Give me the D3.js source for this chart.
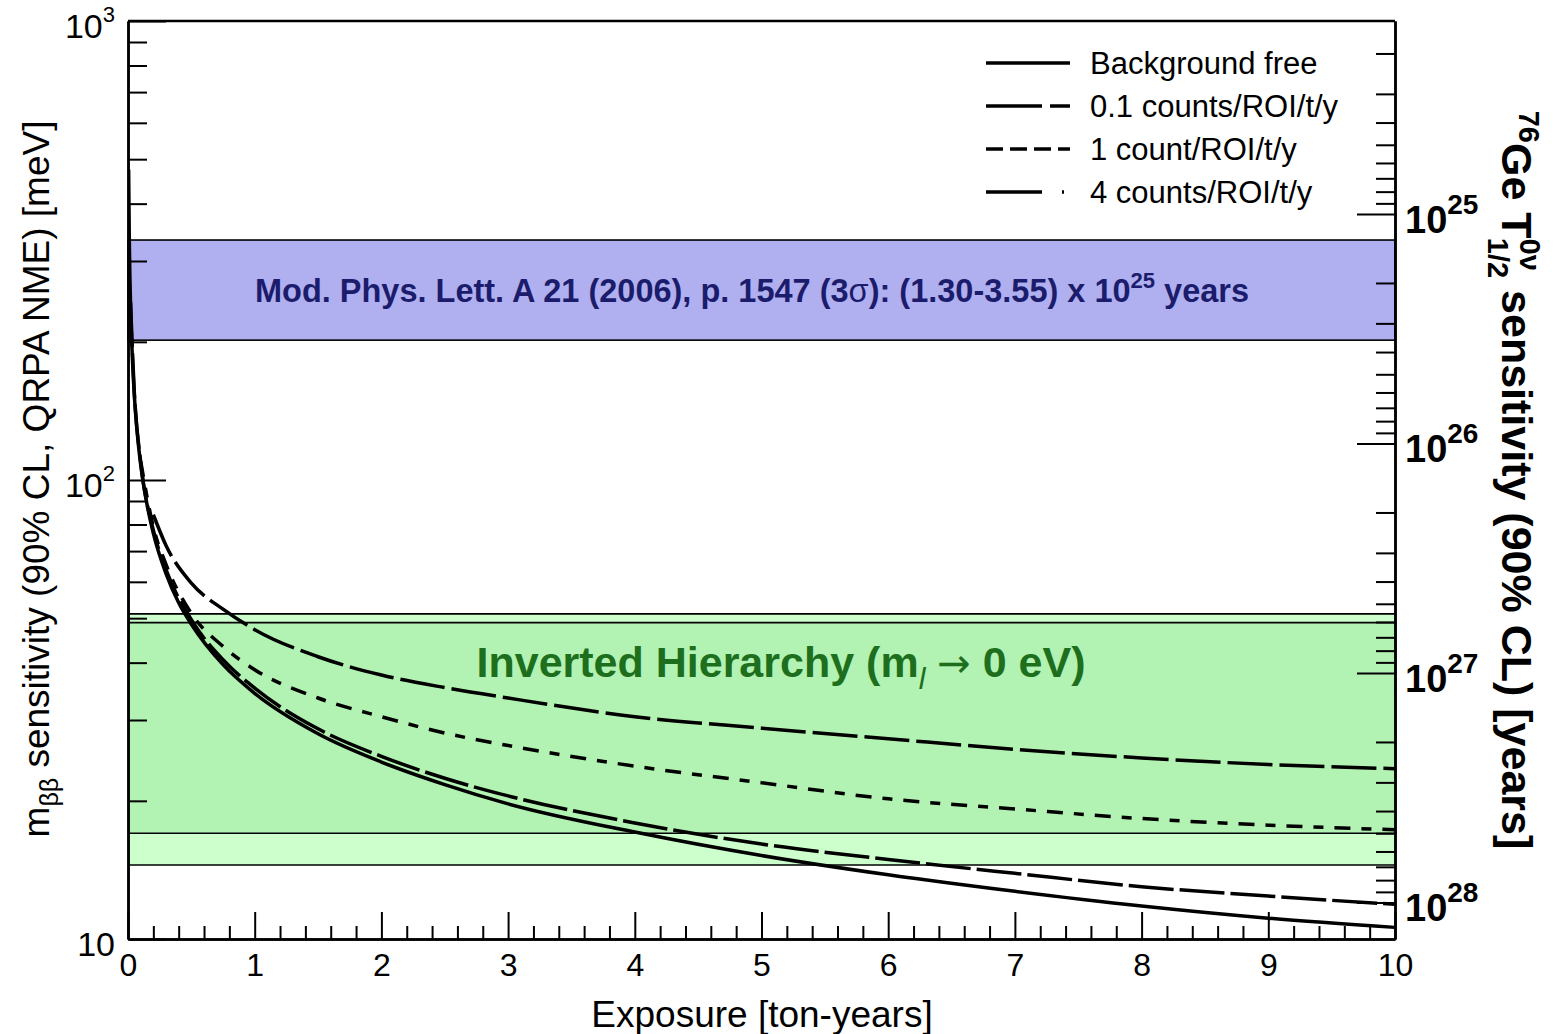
<!DOCTYPE html>
<html>
<head>
<meta charset="utf-8">
<script src="https://cdn.jsdelivr.net/npm/d3@7"></script>
<style>
  body { margin: 0; background: #fff; }
  text { font-family: "Liberation Sans", Arial, Helvetica, sans-serif; }
</style>
</head>
<body>
<svg id="chart" width="1554" height="1034"></svg>
<script>
// exposure [ton-years] and m_bb sensitivity [meV]
var exposureFree = [0.005, 0.01, 0.02, 0.03, 0.05, 0.075, 0.1, 0.15, 0.2, 0.3, 0.4, 0.5, 0.75, 1, 1.5, 2, 2.5, 3, 4, 5, 6, 7, 8, 9, 10];
var sensFree = [475, 340, 242, 198, 153, 125, 108, 88.5, 76.5, 62.5, 54, 48.5, 39.6, 34.3, 28.0, 24.3, 21.7, 19.7, 17.1, 15.2, 13.8, 12.7, 11.8, 11.1, 10.6];

var exposureBkg01 = [0.02, 0.05, 0.1, 0.2, 0.3, 0.5, 0.75, 1, 1.5, 2, 2.5, 3, 4, 5, 6, 7, 8, 9, 10];
var sensBkg01 = [244, 155, 109.5, 77.8, 63.8, 49.6, 40.6, 35.2, 28.7, 25.0, 22.4, 20.5, 17.9, 16.1, 14.9, 13.9, 13.0, 12.4, 11.9];

var exposureBkg1 = [0.1, 0.2, 0.3, 0.5, 0.75, 1, 1.5, 2, 2.5, 3, 4, 5, 6, 7, 8, 9, 10];
var sensBkg1 = [110, 79, 65.5, 51.2, 43.4, 38.6, 33.5, 30.5, 28.1, 26.4, 23.8, 21.9, 20.2, 19.2, 18.3, 17.7, 17.3];

var exposureBkg4 = [0.2, 0.3, 0.5, 0.75, 1, 1.5, 2, 2.5, 3, 4, 5, 6, 7, 8, 9, 10];
var sensBkg4 = [84, 72, 59.6, 52.3, 47.2, 41.2, 37.6, 35.3, 33.5, 30.5, 28.8, 27.3, 25.9, 24.8, 24.0, 23.5];

var seriesNames = ["Background free", "0.1 counts/ROI/t/y", "1 count/ROI/t/y", "4 counts/ROI/t/y"];

// bands
var ihOuter = [14.5, 51.1];      // meV
var ihInner = [17.0, 48.9];      // meV
var claimT = [1.30e25, 3.55e25]; // years
var mAt1e25 = 380;               // meV matching T1/2 = 1e25 y on the right axis

var xTicks = [0, 1, 2, 3, 4, 5, 6, 7, 8, 9, 10];
var yMajor = [10, 100, 1000];
var tMajor = [1e25, 1e26, 1e27, 1e28];

var L = 128, R = 1395, T = 21, B = 939;
var svg = d3.select("#chart");

var x = d3.scaleLinear().domain([0, 10]).range([L, R]);
var y = d3.scaleLog().domain([10, 1000]).range([B, T]);
var yT = d3.scaleLog()
  .domain([1e25 * Math.pow(mAt1e25 / 1000, 2), 1e25 * Math.pow(mAt1e25 / 10, 2)])
  .range([T, B]);

svg.append("clipPath").attr("id", "plotclip")
  .append("rect").attr("x", L).attr("y", T).attr("width", R - L).attr("height", B - T);

// inverted hierarchy band
svg.append("rect").attr("x", L).attr("width", R - L)
  .attr("y", y(ihOuter[1])).attr("height", y(ihOuter[0]) - y(ihOuter[1]))
  .attr("fill", "#ccffcc");
svg.append("rect").attr("x", L).attr("width", R - L)
  .attr("y", y(ihInner[1])).attr("height", y(ihInner[0]) - y(ihInner[1]))
  .attr("fill", "#b2f2b2");
[ihOuter[0], ihOuter[1], ihInner[0], ihInner[1]].forEach(function(v) {
  svg.append("line").attr("x1", L).attr("x2", R).attr("y1", y(v)).attr("y2", y(v))
    .attr("stroke", "#000").attr("stroke-width", 1.6);
});

// claim band (in half-life)
svg.append("rect").attr("x", L).attr("width", R - L)
  .attr("y", yT(claimT[0])).attr("height", yT(claimT[1]) - yT(claimT[0]))
  .attr("fill", "#b0b0f0").attr("stroke", "#000").attr("stroke-width", 1.6);

var claimTxt = svg.append("text").attr("x", 752).attr("y", 302)
  .attr("text-anchor", "middle").attr("font-size", 32.5).attr("font-weight", "bold")
  .attr("fill", "#1c1c6c");
claimTxt.append("tspan").text("Mod. Phys. Lett. A 21 (2006), p. 1547 (3");
claimTxt.append("tspan").attr("font-weight", "normal").text("σ");
claimTxt.append("tspan").text("): (1.30-3.55) x 10");
claimTxt.append("tspan").attr("font-size", 22).attr("dy", -14).text("25");
claimTxt.append("tspan").attr("dy", 14).text(" years");

var ihTxt = svg.append("text").attr("x", 781).attr("y", 677)
  .attr("text-anchor", "middle").attr("font-size", 43).attr("font-weight", "bold")
  .attr("fill", "#1d6e1d");
ihTxt.append("tspan").text("Inverted Hierarchy (m");
ihTxt.append("tspan").attr("font-size", 30).attr("font-style", "italic").attr("font-weight", "normal").attr("dy", 12).text("l");
ihTxt.append("tspan").attr("dy", -12).text(" ");
ihTxt.append("tspan").attr("font-weight", "normal").style("font-family", '"DejaVu Sans", sans-serif')
  .attr("font-size", 40).text("→");
ihTxt.append("tspan").text(" 0 eV)");

// curves
var line = d3.line()
  .x(function(d) { return x(d[0]); })
  .y(function(d) { return y(d[1]); })
  .curve(d3.curveMonotoneX);

var curves = [
  { e: exposureFree, m: sensFree, dash: null, key: null },
  { e: exposureBkg01, m: sensBkg01, dash: "45,6", key: "56,8,20,8" },
  { e: exposureBkg1, m: sensBkg1, dash: "16,11,10,11", key: "17,7" },
  { e: exposureBkg4, m: sensBkg4, dash: "45,7", key: "56,20,2,20" }
];

var gCurves = svg.append("g").attr("clip-path", "url(#plotclip)");
curves.forEach(function(c) {
  gCurves.append("path")
    .datum(d3.zip(c.e, c.m))
    .attr("d", line)
    .attr("fill", "none")
    .attr("stroke", "#000")
    .attr("stroke-width", 3.5)
    .attr("stroke-dasharray", c.dash);
});

// legend
var legRows = [63, 106, 149, 192];
curves.forEach(function(c, i) {
  svg.append("line").attr("x1", 986).attr("x2", 1070)
    .attr("y1", legRows[i]).attr("y2", legRows[i])
    .attr("stroke", "#000").attr("stroke-width", 3.5)
    .attr("stroke-dasharray", c.key);
  svg.append("text").attr("x", 1090).attr("y", legRows[i] + 11)
    .attr("font-size", 31).text(seriesNames[i]);
});

// axes
function styleAxis(g) {
  g.selectAll("path.domain").attr("stroke", "#000").attr("stroke-width", 2.5);
  g.selectAll(".tick line").attr("stroke", "#000").attr("stroke-width", 2);
}

var xMinor = d3.range(0, 50).map(function(i) { return i * 0.2; })
  .filter(function(v) { return Math.abs(v - Math.round(v)) > 1e-6; });

svg.append("g").attr("transform", "translate(0," + B + ")")
  .call(d3.axisBottom(x).tickValues(xMinor).tickSizeInner(-13).tickSizeOuter(0).tickFormat(""))
  .call(styleAxis);
svg.append("g").attr("transform", "translate(0," + B + ")")
  .call(d3.axisBottom(x).tickValues(xTicks).tickSizeInner(-27).tickSizeOuter(0).tickPadding(14).tickFormat(d3.format("d")))
  .call(styleAxis)
  .selectAll("text").attr("font-size", 32).attr("fill", "#000")
  .style("font-family", '"Liberation Sans", Arial, sans-serif');

var yMinor = y.ticks().filter(function(v) { return yMajor.indexOf(v) < 0; });
svg.append("g").attr("transform", "translate(" + L + ",0)")
  .call(d3.axisLeft(y).tickValues(yMinor).tickSizeInner(-19).tickSizeOuter(0).tickFormat(""))
  .call(styleAxis);
svg.append("g").attr("transform", "translate(" + L + ",0)")
  .call(d3.axisLeft(y).tickValues(yMajor).tickSizeInner(-38).tickSizeOuter(0).tickFormat(""))
  .call(styleAxis);

yMajor.forEach(function(v) {
  var p = Math.round(Math.log10(v));
  var t = svg.append("text").attr("x", 115).attr("y", y(v) + 17)
    .attr("text-anchor", "end").attr("font-size", 34);
  t.append("tspan").text("10");
  if (p > 1) t.append("tspan").attr("font-size", 22).attr("dy", -16).text(p);
});

var tMinor = yT.ticks().filter(function(v) {
  return tMajor.indexOf(v) < 0 && v > yT.domain()[0] && v < yT.domain()[1];
});
svg.append("g").attr("transform", "translate(" + R + ",0)")
  .call(d3.axisRight(yT).tickValues(tMinor).tickSizeInner(-19).tickSizeOuter(0).tickFormat(""))
  .call(styleAxis);
svg.append("g").attr("transform", "translate(" + R + ",0)")
  .call(d3.axisRight(yT).tickValues(tMajor).tickSizeInner(-38).tickSizeOuter(0).tickFormat(""))
  .call(styleAxis);

tMajor.forEach(function(v) {
  var p = Math.round(Math.log10(v));
  var t = svg.append("text").attr("x", 1405).attr("y", yT(v) + 19)
    .attr("font-size", 38).attr("font-weight", "bold");
  t.append("tspan").text("10");
  t.append("tspan").attr("font-size", 28).attr("dy", -19).text(p);
});

// top frame
svg.append("line").attr("x1", L).attr("x2", R).attr("y1", T).attr("y2", T)
  .attr("stroke", "#000").attr("stroke-width", 2.5);

// axis titles
svg.append("text").attr("x", 762).attr("y", 1027).attr("text-anchor", "middle")
  .attr("font-size", 37).text("Exposure [ton-years]");

var yTitle = svg.append("text").attr("transform", "translate(49,479) rotate(-90)")
  .attr("text-anchor", "middle").attr("font-size", 37);
yTitle.append("tspan").text("m");
yTitle.append("tspan").attr("font-size", 25).attr("dy", 9).text("ββ");
yTitle.append("tspan").attr("dy", -9).text(" sensitivity (90% CL, QRPA NME) [meV]");

var tTitle = svg.append("text").attr("transform", "translate(1502,480) rotate(90)")
  .attr("text-anchor", "middle").attr("font-size", 43).attr("font-weight", "bold");
tTitle.append("tspan").attr("font-size", 29).attr("dy", -17).text("76");
tTitle.append("tspan").attr("dy", 17).text("Ge T");
tTitle.append("tspan").attr("font-size", 29).attr("dy", -18).text("0ν");
tTitle.append("tspan").attr("font-size", 29).attr("dx", -33).attr("dy", 32).text("1/2");
tTitle.append("tspan").attr("dy", -14).text(" sensitivity (90% CL) [years]");
</script>
</body>
</html>
